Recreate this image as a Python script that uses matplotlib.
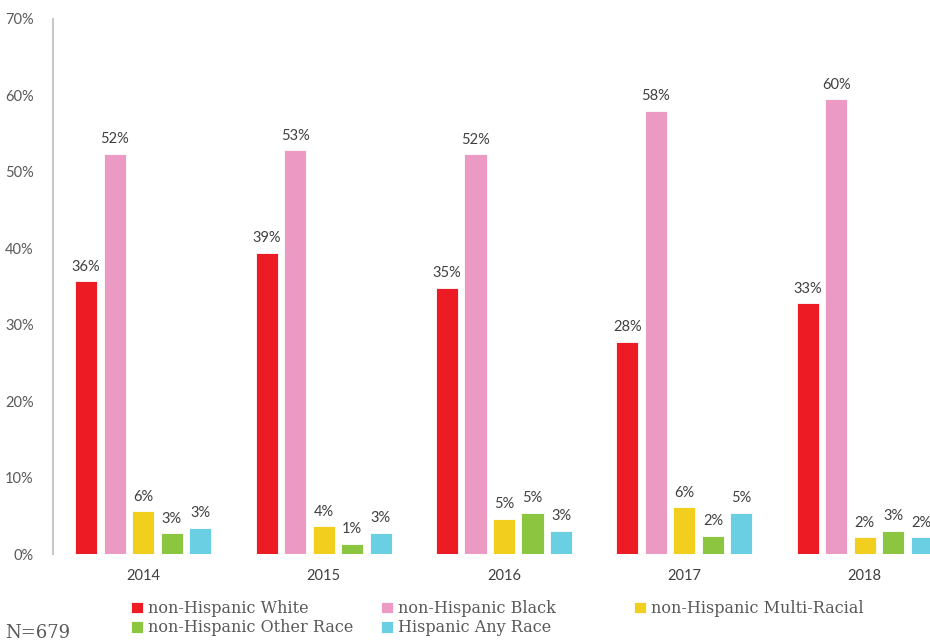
import matplotlib
matplotlib.use("Agg")
import matplotlib.pyplot as plt
import numpy as np

years = ["2014", "2015", "2016", "2017", "2018"]
groups = ["non-Hispanic White", "non-Hispanic Black", "non-Hispanic Multi-Racial",
          "non-Hispanic Other Race", "Hispanic Any Race"]
white = [35.7, 39.4, 34.8, 27.8, 32.8]
black = [52.4, 52.8, 52.3, 58.0, 59.5]
multi = [5.6, 3.6, 4.6, 6.1, 2.2]
other = [2.7, 1.3, 5.4, 2.4, 3.0]
hispanic = [3.4, 2.8, 3.0, 5.4, 2.2]
colors = ["#ED1C24", "#EA9AC3", "#F2CF1F", "#8CC540", "#6ACFE2"]
yticks = [0, 10, 20, 30, 40, 50, 60, 70]

series = [white, black, multi, other, hispanic]

fig = plt.figure(figsize=(9.3, 6.41), dpi=100)
ax = fig.add_axes([53 / 930, 1 - 554 / 641, (955 - 53) / 930, (554 - 19) / 641])

x = np.arange(len(years))
width = 0.122
step = 0.158
bars = []
for i, (vals, col, name) in enumerate(zip(series, colors, groups)):
    pos = x + (i - 2) * step
    b = ax.bar(pos, vals, width=width, color=col, edgecolor="white", linewidth=0.6, label=name)
    bars.append(b)
    for p, v in zip(pos, vals):
        ax.text(p, v + 1.0, f"{round(v):d}%", ha="center", va="bottom",
                fontsize=10.5, color="#404040", family="Lato")

ax.set_xlim(-0.5, 4.5)
ax.set_ylim(0, 70)
ax.set_yticks(yticks)
ax.set_yticklabels([f"{t}%" for t in yticks], family="Lato", fontsize=10.5, color="#595959")
ax.set_xticks(x)
ax.set_xticklabels(years, family="Lato", fontsize=10.5, color="#404040")
ax.tick_params(axis="both", length=0)
ax.tick_params(axis="y", pad=14)
ax.tick_params(axis="x", pad=11)
for s in ["top", "right", "bottom"]:
    ax.spines[s].set_visible(False)
ax.spines["left"].set_color("#C8C8C8")
ax.spines["left"].set_linewidth(1.5)

# Legend laid out as three fixed-width columns
columns = [[0, 3], [1, 4], [2]]
col_x = [131, 381, 634]
for idxs, cx in zip(columns, col_x):
    leg = fig.legend([bars[i] for i in idxs], [groups[i] for i in idxs],
                     ncol=1, loc="upper left", bbox_to_anchor=(cx / 930, 1 - 600 / 641),
                     frameon=False, borderpad=0, borderaxespad=0,
                     handlelength=0.75, handleheight=0.75, handletextpad=0.3,
                     labelspacing=0.15,
                     prop={"family": "DejaVu Serif", "size": 11.5})
    for t in leg.get_texts():
        t.set_color("#595959")

fig.text(5 / 930, 1 - 633 / 641, "N=679", family="DejaVu Serif", fontsize=13,
         color="#595959", va="center", ha="left")

fig.savefig("out.png", dpi=100)
